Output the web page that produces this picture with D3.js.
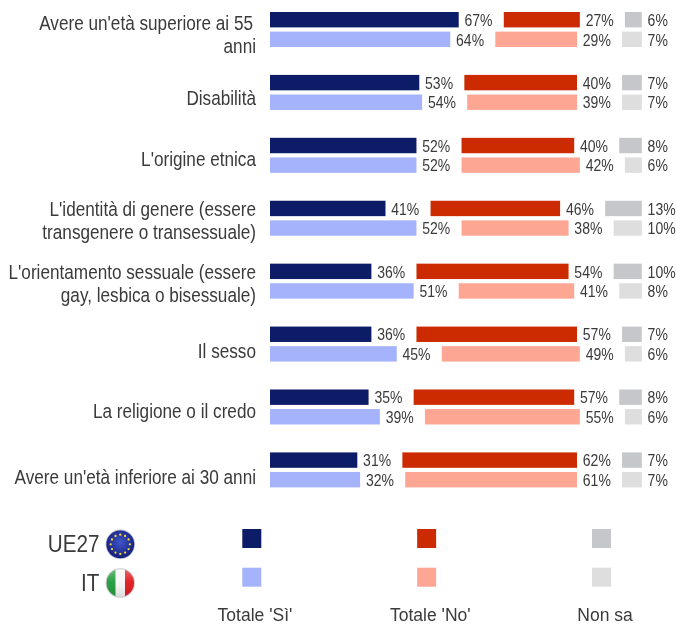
<!DOCTYPE html>
<html><head><meta charset="utf-8">
<script src="https://cdn.jsdelivr.net/npm/d3@7"></script>
<style>html,body{margin:0;padding:0;background:#fff}svg{display:block}text{font-family:"Liberation Sans",Arial,sans-serif;fill:#3a3a3a}</style>
</head><body><svg id="c" width="676" height="625"></svg>
<script>
const categories=[["Avere un'età superiore ai 55","anni"],["Disabilità"],["L'origine etnica"],["L'identità di genere (essere","transgenere o transessuale)"],["L'orientamento sessuale (essere","gay, lesbica o bisessuale)"],["Il sesso"],["La religione o il credo"],["Avere un'età inferiore ai 30 anni"]];
const yesEU=[67,53,52,41,36,36,35,31];
const noEU=[27,40,40,46,54,57,57,62];
const dkEU=[6,7,8,13,10,7,8,7];
const yesIT=[64,54,52,52,51,45,39,32];
const noIT=[29,39,42,38,41,49,55,61];
const dkIT=[7,7,6,10,8,6,6,7];
const legendNames=["Totale 'Sì'","Totale 'No'","Non sa"];
const geoNames=["UE27","IT"];
const colors={EU:["#0f1b66","#cc2c04","#c6c7ca"],IT:["#a4b3fb","#fea694","#dedede"]};
const SPACER=16;
const labelNudge=[0.5,12.6,10.8,-2,-2,13.5,11,14.5];
const svg=d3.select("#c");
const defs=svg.append("defs");
defs.append("filter").attr("id","soft").attr("filterUnits","userSpaceOnUse").attr("x",0).attr("y",0).attr("width",676).attr("height",625)
  .append("feGaussianBlur").attr("stdDeviation",0.35);
const root=svg.append("g").attr("filter","url(#soft)");
const x=d3.scaleLinear().domain([0,100+2*SPACER]).range([270,641.8]);
const y=d3.scalePoint().domain(d3.range(categories.length)).range([29.5,469.9]);
const BH=15.4;
function label(txt,px,py,fs,sx,anchor){
  return root.append("text").attr("transform",`translate(${px},${py}) scale(${sx},1)`).attr("text-anchor",anchor||"start").attr("font-size",fs).text(txt);
}
const series=[["EU",yesEU,noEU,dkEU,-9.8],["IT",yesIT,noIT,dkIT,9.8]];
categories.forEach((lines,i)=>{
  lines.forEach((l,k)=>{
    const base=y(i)+labelNudge[i]+k*22.6;
    label(l,(i===0&&k===0)?253:256,base,19.3,0.89,"end");
  });
  series.forEach(([key,a,b,c,off])=>{
    let acc=0;
    [a,b,c].forEach((arr,j)=>{
      const v=arr[i],x0=x(acc),x1=x(acc+v),yy=y(i)+off;
      root.append("rect").attr("x",x0).attr("y",yy-BH/2).attr("width",x1-x0).attr("height",BH).attr("fill",colors[key][j]);
      label(v+"%",x1+5.8,yy+6.2,17.4,0.805);
      acc+=v+SPACER;
    });
  });
});
const legendX=d3.scalePoint().domain(legendNames).range([251.8,601.5]);
const legendY=d3.scalePoint().domain(["EU","IT"]).range([538.5,577.2]);
const legendTextX=[255,430.3,605];
legendNames.forEach((n,j)=>{
  ["EU","IT"].forEach(k=>root.append("rect").attr("x",legendX(n)-9.5).attr("y",legendY(k)-9.5).attr("width",19).attr("height",19).attr("fill",colors[k][j]));
  label(n,legendTextX[j],621,17.5,1,"middle");
});
geoNames.forEach((n,i)=>label(n,99.5,i?591:551.7,23.5,0.88,"end"));
// flags
const eu=defs.append("radialGradient").attr("id","eu").attr("cx","50%").attr("cy","42%").attr("r","60%");
eu.append("stop").attr("offset","0").attr("stop-color","#3f55c8");eu.append("stop").attr("offset","1").attr("stop-color","#121c78");
const sheen=defs.append("linearGradient").attr("id","sh").attr("x1",0).attr("x2",0).attr("y1",0).attr("y2",1);
sheen.append("stop").attr("offset","0").attr("stop-color","#fff").attr("stop-opacity",.35);
sheen.append("stop").attr("offset",".45").attr("stop-color","#fff").attr("stop-opacity",.05);
sheen.append("stop").attr("offset","1").attr("stop-color","#000").attr("stop-opacity",.12);
defs.append("clipPath").attr("id","cp").append("circle").attr("r",13.7);
const fe=root.append("g").attr("transform","translate(120.3,544.3)");
fe.append("circle").attr("r",14.7).attr("fill","#b9bcd6");
fe.append("circle").attr("r",13.9).attr("fill","url(#eu)");
d3.range(12).forEach(i=>{const a=i*Math.PI/6;fe.append("circle").attr("cx",9.6*Math.sin(a)).attr("cy",-9.6*Math.cos(a)).attr("r",1.15).attr("fill","#f2d835");});
const fi=root.append("g").attr("transform","translate(120.3,583)");
fi.append("circle").attr("r",14.7).attr("fill","#c9c9c9");
const fg=fi.append("g").attr("clip-path","url(#cp)");
[["#1f9a3a",-14],["#f6f6f6",-4.7],["#e0171c",4.7]].forEach(([c,xx])=>fg.append("rect").attr("x",xx).attr("y",-14).attr("width",9.4).attr("height",28).attr("fill",c));
fg.append("rect").attr("x",-14).attr("y",-14).attr("width",28).attr("height",28).attr("fill","url(#sh)");
</script></body></html>
